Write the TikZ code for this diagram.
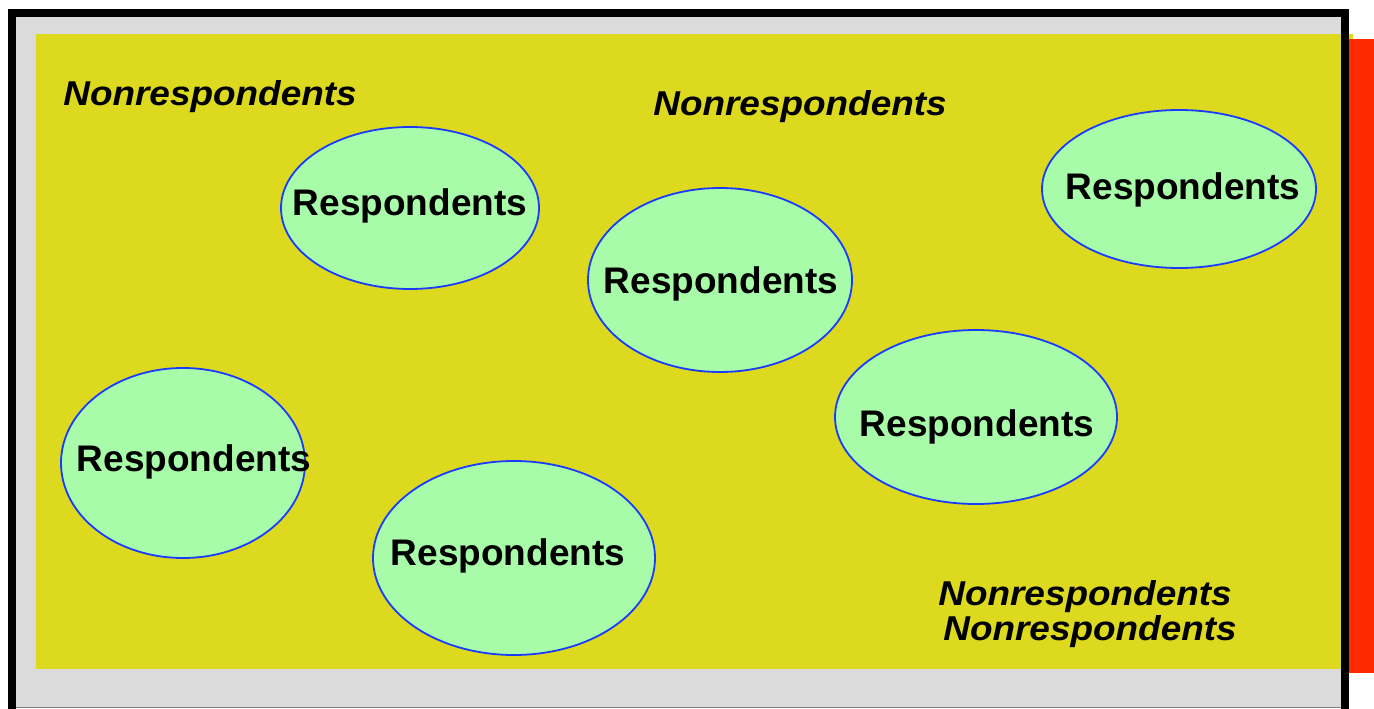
\documentclass[tikz,border=0pt]{standalone}
\usepackage{fontspec}
\setmainfont{Liberation Sans}
\newfontfamily\respfont{Liberation Sans}
\newfontfamily\nrfont[FakeStretch=1.07]{Liberation Sans}
\usetikzlibrary{shapes.geometric}
\definecolor{bggray}{HTML}{DBDBDB}
\definecolor{fieldyellow}{HTML}{DCD91E}
\definecolor{barred}{HTML}{FF2A00}
\definecolor{ellgreen}{HTML}{A8FBA8}
\definecolor{ellblue}{HTML}{1A3CFF}
\tikzset{
  ell/.style={ellipse, draw=ellblue, fill=ellgreen, line width=1.8pt, inner sep=0pt},
  resp/.style={inner sep=0pt, anchor=base, font=\respfont\bfseries\fontsize{37}{40}\selectfont},
  nonresp/.style={inner sep=0pt, anchor=base, font=\nrfont\bfseries\itshape\fontsize{34.5}{38}\selectfont}
}
\begin{document}
\begin{tikzpicture}[x=1pt,y=-1pt]
\useasboundingbox (0,0) rectangle (1374,709);
% background frame
\fill[bggray] (8,9) rectangle (1349,708);
\draw[gray,line width=1pt] (8,707.5) -- (1349,707.5);
\fill[fieldyellow] (36,34) rectangle (1353,669);
\fill[barred] (1349,39) rectangle (1374,673);
\draw[black,line width=8pt] (12,709) -- (12,13) -- (1345,13) -- (1345,709);
% ellipses
\node[ell, minimum width=258pt, minimum height=162pt] (e1) at (410,208) {};
\node[ell, minimum width=264pt, minimum height=184pt] (e2) at (720,280) {};
\node[ell, minimum width=274pt, minimum height=158pt] (e3) at (1179,189) {};
\node[ell, minimum width=244pt, minimum height=190pt] (e4) at (183,463) {};
\node[ell, minimum width=282pt, minimum height=194pt] (e5) at (514,558) {};
\node[ell, minimum width=282pt, minimum height=174pt] (e6) at (976,417) {};
% labels
\node[resp] (r1) at (410,215) {Respondents};
\node[resp] (r2) at (721,293) {Respondents};
\node[resp] (r3) at (1183,199) {Respondents};
\node[resp] (r4) at (194,471.5) {Respondents};
\node[resp] (r5) at (508,565) {Respondents};
\node[resp] (r6) at (977,436) {Respondents};
\node[nonresp] (n1) at (210,105) {Nonrespondents};
\node[nonresp] (n2) at (800,115) {Nonrespondents};
\node[nonresp] (n3) at (1085,605.5) {Nonrespondents};
\node[nonresp] (n4) at (1090,640) {Nonrespondents};
\end{tikzpicture}
\end{document}
